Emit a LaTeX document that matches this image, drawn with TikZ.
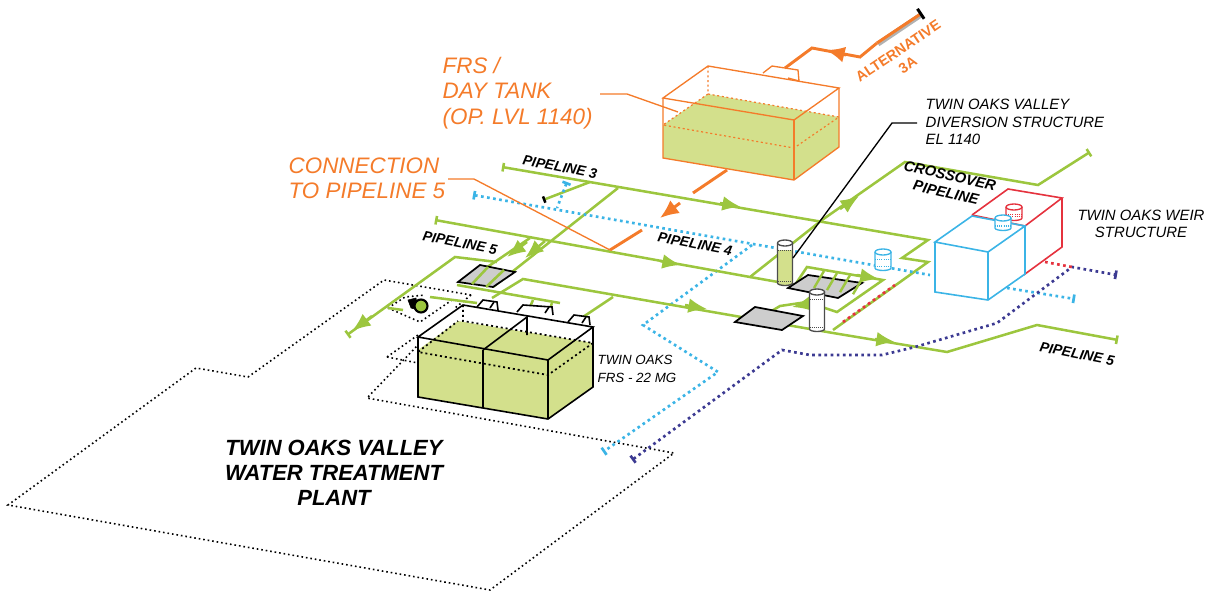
\documentclass[tikz,border=0pt]{standalone}
\usepackage{fontspec}
\setmainfont{Liberation Sans}
\usepackage{xcolor}
\usepackage{tikz}
\usetikzlibrary{arrows.meta, calc}

\definecolor{pipegreen}{HTML}{9CC63E}
\definecolor{watergreen}{HTML}{D3E08C}
\definecolor{frsorange}{HTML}{F47B2A}
\definecolor{pipeblue}{HTML}{3BB4E6}
\definecolor{pipepurple}{HTML}{3C3A92}
\definecolor{weirred}{HTML}{E5323E}
\definecolor{padgray}{HTML}{CDCDCD}

\newcommand{\drumshape}[6]{% x, top y, bottom y, radius, line colour, water level
    \fill[white] (#1-#4,#2) -- (#1-#4,#3) arc[start angle=180, end angle=0, x radius=#4, y radius=2.5] -- (#1+#4,#2) -- cycle;
    \fill[watergreen, opacity=#6] (#1-#4,#2+7) -- (#1-#4,#3) arc[start angle=180, end angle=0, x radius=#4, y radius=2.5] -- (#1+#4,#2+7) -- cycle;
    \draw[#5, line width=1pt] (#1-#4,#2) -- (#1-#4,#3) arc[start angle=180, end angle=0, x radius=#4, y radius=2.5] -- (#1+#4,#2);
    \draw[#5, line width=1pt, fill=white] (#1,#2) ellipse[x radius=#4, y radius=3];
    \draw[#5, densely dotted, line width=0.6pt] (#1-#4,#2+7) -- (#1+#4,#2+7);
    \draw[#5, densely dotted, line width=0.6pt] (#1-#4,#3-2) -- (#1+#4,#3-2);
}

\begin{document}
\begin{tikzpicture}[
        x=0.75pt, y=-0.75pt,
        endbar/.tip={Bar[width=6.5pt,length=1pt]},
        pipe/.style={draw=pipegreen, line width=1.9pt, line join=miter},
        pipeend/.style={pipe, endbar-},
        flow/.style={draw=pipegreen, line width=1.9pt, -{Latex[length=14pt,width=11pt]}},
        orangeline/.style={draw=frsorange, line width=1pt},
        orangepipe/.style={draw=frsorange, line width=2.2pt},
        orangeflow/.style={draw=frsorange, line width=2.2pt, -{Latex[length=14pt,width=12pt]}},
        hidden/.style={draw=frsorange, line width=0.9pt, dash pattern=on 1.5pt off 2pt},
        bluedot/.style={draw=pipeblue, line width=2pt, dash pattern=on 2pt off 2.6pt},
        purpledot/.style={draw=pipepurple, line width=2pt, dash pattern=on 2pt off 2.6pt},
        reddot/.style={draw=weirred, line width=2pt, dash pattern=on 2pt off 2.6pt},
        sitedot/.style={draw=black, line width=1.2pt, dash pattern=on 1.2pt off 2.2pt},
        tankline/.style={draw=black, line width=1.2pt},
        pad/.style={draw=black, fill=padgray, line width=1.3pt},
        bigorange/.style={text=frsorange, align=left, anchor=west, font=\fontsize{16.8}{19}\selectfont\itshape},
        pipelabel/.style={font=\fontsize{10.5}{13}\selectfont\bfseries\itshape, rotate=-11, align=center},
        smalllabel/.style={font=\fontsize{11.2}{13}\selectfont\itshape}
    ]
    \useasboundingbox (0,0) rectangle (1213,593);

    % Site boundary
    \draw[sitedot] (471,295) -- (384,280) -- (248,377) -- (196,368) -- (8,505) -- (490,590) -- (674,453) -- (367,398) -- (418,345);
    \draw[sitedot] (471,295) -- (455,308);
    \draw[sitedot] (387,357) -- (418,363);
    \draw[sitedot] (387,357) -- (418,335);
    \draw[sitedot] (388,308) -- (420,322) -- (452,300);
    \draw[sitedot] (388,308) -- (405,297) -- (425,295);

    % Pipeline 3
    \draw[pipeend] (502,167) -- (928,240) -- (902,258) -- (928,262) -- (833,330);
    \draw[pipe, -{Bar[black,width=5pt,length=1pt]}] (590,182) -- (543,200);
    \draw[pipe] (618,188) -- (493,287);
    % Pipeline 4
    \draw[bluedot, endbar-] (473,195) -- (930,275);
    \draw[bluedot, endbar-] (567,182) -- (557,208);
    \draw[bluedot, -endbar] (752,245) -- (643,325) -- (718,372) -- (603,452);
    \draw[bluedot, -endbar] (1007,288) -- (1075,299);
    % Pipeline 5 and crossover
    \draw[pipe, endbar-endbar] (435,220) -- (750,277) -- (822,220) -- (905,162) -- (1038,185) -- (1090,152);
    \draw[pipe] (530,238) -- (480,272);
    \draw[pipe] (750,277) -- (795,285) -- (807,267) -- (883,280) -- (837,312) -- (807,302) -- (780,306) -- (770,312);
    \draw[pipe] (457,285) -- (560,303);
    \draw[pipeend] (1118,340) -- (1037,325) -- (947,352) -- (833,333) -- (523,279) -- (492,298);
    \draw[pipe] (613,297) -- (583,317);
    \draw[pipe] (533,300) -- (530,307);
    \draw[pipe] (552,303) -- (549,311);
    \draw[pipeend] (347,335) -- (455,257) -- (497,262);
    \draw[pipe] (388,308) -- (403,310);
    \draw[pipe] (430,297) -- (477,303);
    % Purple line
    \draw[purpledot, endbar-endbar] (632,460) -- (782,350) -- (810,355) -- (882,355) -- (915,347) -- (997,323) -- (1072,267) -- (1117,275);
    % Red links
    \draw[reddot] (843,322) -- (895,285);
    \draw[reddot] (1045,262) -- (1072,267);

    % Flow arrows
    \foreach \tail/\tip in {{720,203}/{741,207}, {660,261}/{681,265}, {840,209}/{859,196}, {875,339}/{895,342}, {857,275}/{879,279}, {808,304}/{792,307}, {527,242}/{507,257}, {545,241}/{525,258}, {372,316}/{352,331}, {685,305}/{707,309}} {
        \draw[flow] (\tail) -- (\tip);
    }

    % Pads
    \draw[pad] (458,282) -- (480,265) -- (515,272) -- (493,287) -- cycle;
    \draw[pipe] (488,267) -- (472,284);
    \draw[pipe] (504,270) -- (486,287);
    \draw[pad] (788,288) -- (808,275) -- (862,283) -- (838,298) -- cycle;
    \foreach \dx in {0,13,26,39} {
        \draw[draw=pipegreen, line width=1.8pt] (824+\dx,271+0.16*\dx) -- (814+\dx,288+0.16*\dx);
    }
    \draw[pad] (735,322) -- (755,307) -- (803,316) -- (782,330) -- cycle;

    % Pump
    \draw[black, fill=black] (408,300) -- (416,298) -- (418,310) -- (411,308) -- cycle;
    \draw[black, fill=pipegreen, line width=1.6pt] (421,306) circle (6.5);

    % Drums
    \drumshape{785}{243}{283}{7.5}{black!70}{1}
    \drumshape{817}{292}{329}{7.5}{black!70}{0}
    \drumshape{883}{252}{268}{8}{pipeblue}{0}

    % Twin Oaks FRS
    \fill[white] (418,337) -- (463,305) -- (593,327) -- (593,345) -- (418,350) -- cycle;
    \fill[watergreen] (418,397) -- (548,419) -- (593,387) -- (593,343) -- (458,321) -- (418,350) -- cycle;
    \foreach \bx/\by/\bw in {477/307/21, 517/312/36, 568/322/22} {
        \draw[tankline, fill=white] (\bx,\by) -- (\bx+6,\by-7) -- (\bx+\bw-1,\by-5) -- (\bx+\bw,\by+3);
        \draw[tankline] (\bx+\bw-4,\by-5) -- (\bx+\bw-8,\by+1);
    }
    \draw[tankline] (418,337) -- (463,305) -- (593,327) -- (548,360) -- cycle;
    \draw[tankline] (418,337) -- (418,397) -- (548,419) -- (593,387) -- (593,327);
    \draw[tankline] (548,360) -- (548,419);
    \draw[tankline] (483,350) -- (483,408);
    \draw[tankline] (483,350) -- (527,317) -- (527,335);
    \draw[sitedot, line width=1.3pt, dash pattern=on 1.5pt off 2.2pt] (463,305) -- (463,321) -- (593,343) -- (548,375) -- (418,352) -- (458,321);

    % Day tank
    \fill[watergreen] (663,125) -- (708,94) -- (839,117) -- (839,147) -- (794,180) -- (663,158) -- cycle;
    \draw[orangepipe] (727,170) -- (693,193);
    \draw[orangeflow] (680,203) -- (660,218);
    \draw[orangepipe] (642,230) -- (610,250);
    \draw[hidden] (708,66) -- (708,94) -- (839,117) -- (794,148) -- (663,125) -- (708,94);
    \draw[orangeline] (663,98) -- (708,66) -- (839,88) -- (794,120) -- cycle;
    \draw[orangeline] (663,98) -- (663,158) -- (794,180) -- (839,147) -- (839,88);
    \draw[orangeline] (794,120) -- (794,180);
    \draw[orangeline, fill=white] (763,73) -- (772,66) -- (798,70) -- (799,81) -- (788,78);
    \draw[orangepipe] (785,68) -- (812,48) -- (860,57) -- (877,43);
    \draw[orangeflow] (846,55) -- (826,50);
    \draw[draw=gray!60, line width=3.8pt] (878,44) -- (921,15);
    \draw[draw=frsorange, line width=2.2pt, -{Bar[black,width=9pt,length=1pt]}] (877,43) -- (922,13);

    % Weir structure
    \draw[draw=weirred, line width=1.2pt] (972,215) -- (1008,189) -- (1062,198) -- (1025,226) -- (1025,274) -- (1062,247) -- (1062,198);
    \draw[draw=weirred, line width=1.2pt] (972,215) -- (1025,226);
    \draw[draw=pipeblue, line width=1.2pt] (935,242) -- (972,216) -- (1025,226) -- (988,252) -- cycle;
    \draw[draw=pipeblue, line width=1.2pt] (935,242) -- (935,292) -- (988,300) -- (1025,274) -- (1025,226);
    \draw[draw=pipeblue, line width=1.2pt] (988,252) -- (988,300);
    \drumshape{1014}{207}{218}{8}{weirred}{0}
    \drumshape{1003}{218}{228}{8}{pipeblue}{0}

    % Leaders
    \draw[orangeline] (600,94) -- (627,94) -- (678,112);
    \draw[orangeline] (448,179) -- (474,179) -- (610,250);
    \draw[draw=black, line width=1pt] (917,123) -- (892,123) -- (793,258);

    % Labels
    \node[bigorange] (daytank) at (438,93) {FRS /\\DAY TANK\\(OP. LVL 1140)};
    \node[bigorange] (connection) at (284,178) {CONNECTION\\TO PIPELINE 5};
    \node[text=frsorange, rotate=34, align=center, font=\fontsize{10.8}{13}\selectfont\bfseries] (alternative) at (903,58) {ALTERNATIVE\\3A};
    \node[pipelabel] (pipeline3) at (560,167) {PIPELINE 3};
    \node[pipelabel] (pipeline5a) at (460,243) {PIPELINE 5};
    \node[pipelabel] (pipeline4) at (695,244) {PIPELINE 4};
    \node[pipelabel] (pipeline5b) at (1077,354) {PIPELINE 5};
    \node[pipelabel, rotate=-2, font=\fontsize{11}{13}\selectfont\bfseries\itshape] (crossover) at (948,184) {CROSSOVER\\PIPELINE};
    \node[smalllabel, align=left, anchor=west] (diversion) at (921,122) {TWIN OAKS VALLEY\\DIVERSION STRUCTURE\\EL 1140};
    \node[smalllabel, align=center] (weir) at (1141,224) {TWIN OAKS WEIR\\STRUCTURE};
    \node[font=\fontsize{10}{13}\selectfont\itshape, align=left, anchor=west] (frslabel) at (593,369) {TWIN OAKS\\FRS - 22 MG};
    \node[font=\fontsize{16.5}{18.8}\selectfont\bfseries\itshape, align=center] (plant) at (334,473) {TWIN OAKS VALLEY\\WATER TREATMENT\\PLANT};
\end{tikzpicture}
\end{document}
